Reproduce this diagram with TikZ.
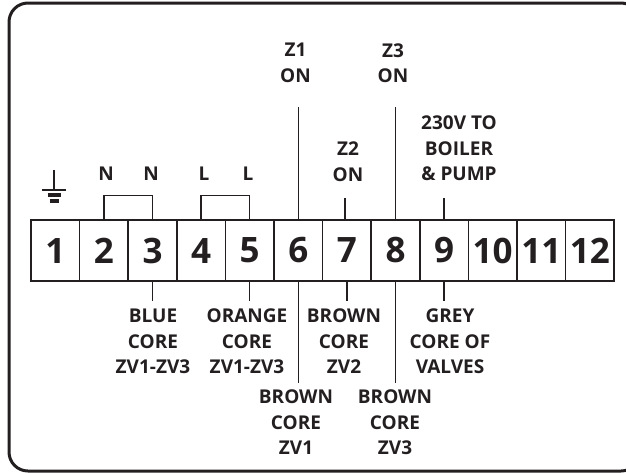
\documentclass[tikz,border=0pt]{standalone}
\usepackage{fontspec}
\setmainfont{Open Sans}
\usetikzlibrary{positioning, calc}
\definecolor{inkblack}{HTML}{231F20}
\tikzset{
  cellbox/.style={rectangle, draw=inkblack, line width=1.5pt, minimum width=48.6pt, minimum height=61pt, inner sep=0pt, text=inkblack, font=\fontsize{35}{35}\selectfont\bfseries},
  wirelabel/.style={align=center, inner sep=0pt, text=inkblack, font=\fontsize{19}{25.5}\selectfont\bfseries},
  wire/.style={draw=inkblack, line width=1.4pt}
}

\begin{document}
\begin{tikzpicture}[x=1pt, y=-1pt]
                  \useasboundingbox (0,0) rectangle (626,472);
                  % Frame
                  \draw[draw=inkblack, line width=3pt, rounded corners=19pt] (9,3) rectangle (640,471);

                  % Terminals
                  \foreach \n in {1,...,12} {
                      \node[cellbox] (c\n) at ({31+48.6*(\n-0.5)},250.5) {\n};
                  }

                  % Earth symbol
                  \coordinate (earth) at (54,190);
                  \draw[draw=inkblack, line width=2pt] (earth) -- ++(0,-20);
                  \draw[draw=inkblack, line width=2.6pt] ($(earth)+(-12,0)$) -- ($(earth)+(12,0)$);
                  \draw[draw=inkblack, line width=3.6pt] ($(earth)+(-6.5,5)$) -- ($(earth)+(6.5,5)$);
                  \draw[draw=inkblack, line width=4pt] ($(earth)+(-4.5,11)$) -- ($(earth)+(4.5,11)$);

                  % Labels above
                  \node[wirelabel] (n2) at (106,174) {N};
                  \node[wirelabel] (n3) at (151,174) {N};
                  \node[wirelabel] (l4) at (204,174) {L};
                  \node[wirelabel] (l5) at (248,174) {L};
                  \node[wirelabel] (z1) at (295.5,63) {Z1\\ON};
                  \node[wirelabel] (z2) at (348,161.5) {Z2\\ON};
                  \node[wirelabel] (z3) at (393,63) {Z3\\ON};
                  \node[wirelabel] (boiler) at (459,148.5) {230V TO\\BOILER\\\& PUMP};

                  % Labels below
                  \node[wirelabel] (blue) at (153,341.5) {BLUE\\CORE\\ZV1-ZV3};
                  \node[wirelabel] (orange) at (247,341.5) {ORANGE\\CORE\\ZV1-ZV3};
                  \node[wirelabel] (zv2) at (344,341.5) {BROWN\\CORE\\ZV2};
                  \node[wirelabel] (grey) at (450,341.5) {GREY\\CORE OF\\VALVES};
                  \node[wirelabel] (zv1) at (296,422.5) {BROWN\\CORE\\ZV1};
                  \node[wirelabel] (zv3) at (395,422.5) {BROWN\\CORE\\ZV3};

                  % Links
                  \draw[wire] (c2.north) -- ++(0,-24) -| (c3.north);
                  \draw[wire] (c4.north) -- ++(0,-24) -| (c5.north);

                  % Wires
                  \draw[wire] (c6.north) -- ++(0,-112);
                  \draw[wire] ([xshift=-2pt]c7.north) -- ++(0,-21);
                  \draw[wire] (c8.north) -- ++(0,-112);
                  \draw[wire] (c9.north) -- ++(0,-21);
                  \draw[wire] (c3.south) -- ++(0,19);
                  \draw[wire] (c5.south) -- ++(0,19);
                  \draw[wire] (c6.south) -- ++(0,101);
                  \draw[wire] (c7.south) -- ++(0,19);
                  \draw[wire] (c8.south) -- ++(0,101);
                  \draw[wire] (c9.south) -- ++(0,19);
              \end{tikzpicture}
\end{document}
